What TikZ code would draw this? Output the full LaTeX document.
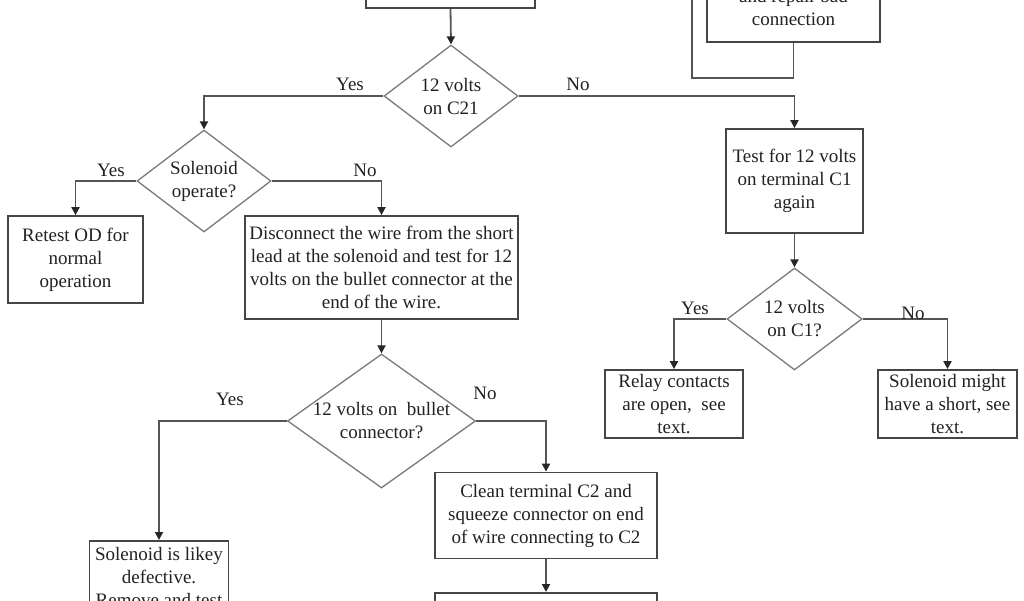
\documentclass[tikz,border=0pt]{standalone}
\usepackage{fontspec}
\setmainfont{Liberation Serif}
\usetikzlibrary{shapes.geometric,arrows.meta}
\definecolor{boxc}{HTML}{454545}
\definecolor{diac}{HTML}{7A7A7A}
\definecolor{linec}{HTML}{555555}
\definecolor{txtc}{HTML}{222222}
\newcommand{\fsz}{\fontsize{19}{23}\selectfont}
\begin{document}
\begin{tikzpicture}[x=1pt,y=-1pt,
  box/.style={draw=boxc, line width=1.8pt, fill=white, inner sep=0pt, font=\fsz, align=center, text=txtc},
  dia/.style={draw=diac, line width=1.3pt, diamond, inner sep=0pt, fill=white},
  txt/.style={font=\fsz, align=center, text=txtc, inner sep=0pt},
  lab/.style={font=\fsz, text=txtc, inner sep=0pt},
  link/.style={draw=linec, line width=1.8pt},
  arr/.style={link, -{Triangle[length=8pt,width=8pt,color=black!85]}}]
\useasboundingbox (0,0) rectangle (1024,600);
\fill[white] (0,0) rectangle (1024,600);
\clip (0,0) rectangle (1024,600);

% top boxes (cut off by the frame)
\node[box, minimum width=169, minimum height=100, anchor=south] (tl) at (450.5,9) {};
\node[box, minimum width=173, minimum height=120, anchor=south] (tr) at (793.5,43) {};
\node[txt] (trt) at (793.5,7) {and repair bad\\connection};
\coordinate (lp) at (692,-40);

% decisions
\node[dia, minimum width=134, minimum height=102] (d1) at (451,96) {};
\node[txt] (d1t) at (d1.center) {12 volts\\on C21};
\node[dia, minimum width=134, minimum height=102] (d2) at (204,181) {};
\node[txt] (d2t) at (d2.center) {Solenoid\\operate?};
\node[dia, minimum width=188, minimum height=134] (d3) at (381.5,421) {};
\node[txt] (d3t) at (d3.center) {12 volts on\ \ bullet\\connector?};
\node[dia, minimum width=135, minimum height=102] (d4) at (794.5,319) {};
\node[txt] (d4t) at (d4.center) {12 volts\\on C1?};

% process boxes
\node[box, minimum width=137, minimum height=104] (test) at (794.5,181) {Test for 12 volts\\on terminal C1\\again};
\node[box, minimum width=135, minimum height=87] (retest) at (75.5,259.5) {Retest OD for\\normal\\operation};
\node[box, minimum width=273, minimum height=103] (disc) at (381.5,267.5) {Disconnect the wire from the short\\lead at the solenoid and test for 12\\volts on the bullet connector at the\\end of the wire.};
\node[box, minimum width=222, minimum height=86] (clean) at (546,515.5) {Clean terminal C2 and\\squeeze connector on end\\of wire connecting to C2};
\node[box, minimum width=138, minimum height=68] (relay) at (674,404) {Relay contacts\\are open,\ \ see\\text.};
\node[box, minimum width=139, minimum height=68] (short) at (947.5,404) {Solenoid might\\have a short, see\\text.};
\node[box, minimum width=139, minimum height=110, anchor=north] (likey) at (159,540) {};
\node[txt] (likeyt) at (159,577) {Solenoid is likey\\defective.\\Remove and test};
\node[box, minimum width=222, minimum height=60, anchor=north] (bot) at (546,592) {};

% connectors
\draw[arr] (tl.south) -- (d1.north);
\draw[arr] (d1.west) -| (d2.north);
\draw[arr] (d1.east) -| (test.north);
\draw[arr] (d2.west) -| (retest.north);
\draw[arr] (d2.east) -| (disc.north);
\draw[arr] (disc.south) -- (d3.north);
\draw[arr] (d3.west) -| (likey.north);
\draw[arr] (d3.east) -| (clean.north);
\draw[arr] (clean.south) -- (bot.north);
\draw[arr] (test.south) -- (d4.north);
\draw[arr] (d4.west) -| (relay.north);
\draw[arr] (d4.east) -| (short.north);
\draw[link] (tr.south) -- ++(0,35) -| (lp);

% branch labels
\node[lab] (y1) at (350,84) {Yes};
\node[lab] (n1) at (578,84) {No};
\node[lab] (y2) at (111,170) {Yes};
\node[lab] (n2) at (365,170) {No};
\node[lab] (y3) at (230,399) {Yes};
\node[lab] (n3) at (485,393) {No};
\node[lab] (y4) at (695,308) {Yes};
\node[lab] (n4) at (913,313) {No};
\end{tikzpicture}
\end{document}
